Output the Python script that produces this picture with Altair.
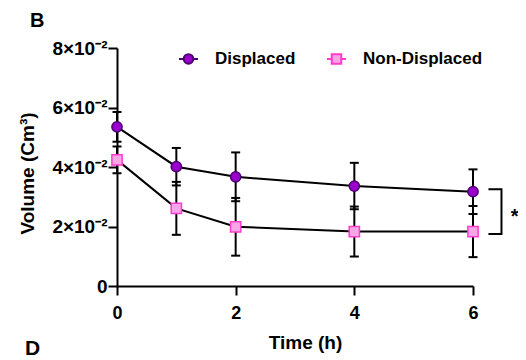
import altair as alt
import pandas as pd

# ---- data ----
times = [0, 1, 2, 4, 6]
groups = ["Displaced", "Non-Displaced"]
disp_mean = [0.0535, 0.0401, 0.0367, 0.0336, 0.0317]
disp_sd = [0.0050, 0.0063, 0.0082, 0.0078, 0.0075]
nond_mean = [0.0424, 0.0261, 0.0199, 0.0183, 0.0183]
nond_sd = [0.0045, 0.0089, 0.0097, 0.0084, 0.0086]

x_ticks = [0, 2, 4, 6]
y_ticks = [0, 0.02, 0.04, 0.06, 0.08]
y_tick_labels = ["0", "2×10⁻²", "4×10⁻²", "6×10⁻²", "8×10⁻²"]

# significance bracket between the two series at 6 h
bracket_x = [6.26, 6.48, 6.48, 6.26]
bracket_y = [0.0325, 0.0325, 0.0175, 0.0175]
star_text = ["*"]
star_x = [6.70]
star_y = [0.0213]

fill_colors = ["#9A00CC", "#F8A6E6"]
stroke_colors = ["#4E0070", "#FF3CCB"]

FONT = "Liberation Sans"

# ---- tables ----
rows = []
for g, means, sds in [(groups[0], disp_mean, disp_sd), (groups[1], nond_mean, nond_sd)]:
    for t, m, s in zip(times, means, sds):
        rows.append({"group": g, "t": t, "v": m, "lo": m - s, "hi": m + s})
df = pd.DataFrame(rows)
caps = pd.concat([
    df.assign(cap=df["lo"]),
    df.assign(cap=df["hi"]),
])
bracket = pd.DataFrame({"x": bracket_x, "y": bracket_y, "o": list(range(len(bracket_x)))})
star = pd.DataFrame({"x": star_x, "y": star_y, "s": star_text})

label_expr = "[" + ",".join("'" + s + "'" for s in y_tick_labels) + "][round(datum.value/0.02)]"

xaxis = alt.Axis(
    values=x_ticks, title="Time (h)", grid=False,
    domainColor="black", domainWidth=2, tickColor="black", tickWidth=2, tickSize=9,
    labelFont=FONT, labelFontSize=18, labelFontWeight="bold", labelColor="black",
    labelPadding=9, labelFlush=False,
    titleFont=FONT, titleFontSize=19, titleFontWeight="bold", titleColor="black",
    titleX=188, titleY=62, titleAlign="center", titleBaseline="alphabetic",
)
yaxis = alt.Axis(
    values=y_ticks, title="Volume (Cm³)", grid=False, labelExpr=label_expr,
    domainColor="black", domainWidth=2, tickColor="black", tickWidth=2, tickSize=9,
    labelFont=FONT, labelFontSize=19, labelFontWeight="bold", labelColor="black",
    labelPadding=1, labelFlush=False,
    titleFont=FONT, titleFontSize=19, titleFontWeight="bold", titleColor="black",
    titleX=-84, titleY=125, titleAlign="center", titleBaseline="alphabetic", titleAngle=270,
)
xs = alt.Scale(domain=[0, 6], nice=False, zero=False)
ys = alt.Scale(domain=[0, 0.08], nice=False)


def X(f):
    return alt.X(f, type="quantitative", scale=xs, axis=xaxis)


def Y(f):
    return alt.Y(f, type="quantitative", scale=ys, axis=yaxis)


lines = alt.Chart(df).mark_line(color="black", strokeWidth=2).encode(
    x=X("t"), y=Y("v"), detail="group:N"
)
bars = alt.Chart(df).mark_rule(color="black", strokeWidth=2).encode(
    x=X("t"), y=Y("lo"), y2="hi"
)
capmarks = alt.Chart(caps).mark_rule(color="black", strokeWidth=2, xOffset=-4.5, x2Offset=4.5).encode(
    x=X("t"), x2="t", y=Y("cap")
)
points = alt.Chart(df).mark_point(filled=True, size=105, strokeWidth=1.5, opacity=1).encode(
    x=X("t"), y=Y("v"),
    shape=alt.Shape("group:N", scale=alt.Scale(domain=groups, range=["circle", "square"]), legend=None),
    fill=alt.Fill("group:N", scale=alt.Scale(domain=groups, range=fill_colors), legend=None),
    stroke=alt.Stroke("group:N", scale=alt.Scale(domain=groups, range=stroke_colors), legend=None),
)

circ_path = "M-1,0H-0.5M0.5,0H1M0.5,0A0.5,0.5,0,1,1,-0.5,0A0.5,0.5,0,1,1,0.5,0Z"
sq_path = "M-1,0H-0.5M0.5,0H1M-0.5,-0.5H0.5V0.5H-0.5Z"
leg = alt.Legend(
    title=None, orient="none", legendX=61, legendY=0, direction="horizontal",
    padding=0, symbolSize=361, symbolStrokeWidth=2, symbolOpacity=1, labelOffset=16, columnPadding=27,
    labelFont=FONT, labelFontSize=17, labelFontWeight="bold", labelColor="black",
)
legend_layer = alt.Chart(df).transform_filter("datum.t < 0").mark_point(
    filled=True, strokeWidth=2, opacity=1
).encode(
    x=X("t"), y=Y("v"),
    shape=alt.Shape("group:N", scale=alt.Scale(domain=groups, range=[circ_path, sq_path]), legend=leg),
    fill=alt.Fill("group:N", scale=alt.Scale(domain=groups, range=fill_colors), legend=leg),
    stroke=alt.Stroke("group:N", scale=alt.Scale(domain=groups, range=stroke_colors), legend=leg),
)

bracket_mark = alt.Chart(bracket).mark_line(color="black", strokeWidth=2, clip=False).encode(
    x=X("x"), y=Y("y"), order="o:Q"
)
star_mark = alt.Chart(star).mark_text(
    font=FONT, fontSize=20, fontWeight="bold", color="black", align="center", baseline="alphabetic", clip=False
).encode(x=X("x"), y=Y("y"), text="s:N")

one = pd.DataFrame({"a": [0]})
panel_b = alt.Chart(one).mark_text(
    text="B", font=FONT, fontSize=20, fontWeight="bold", color="black", align="left", baseline="alphabetic"
).encode(x=alt.value(-87), y=alt.value(-21))
panel_d = alt.Chart(one).mark_text(
    text="D", font=FONT, fontSize=21, fontWeight="bold", color="black", align="left", baseline="alphabetic"
).encode(x=alt.value(-92), y=alt.value(307))

chart = alt.layer(
    lines, bars, capmarks, points, legend_layer, bracket_mark, star_mark, panel_b, panel_d
).resolve_scale(
    shape="independent", fill="independent", stroke="independent"
).properties(
    width=356, height=238,
    autosize=alt.AutoSizeParams(type="none"),
    padding={"left": 109, "top": 40, "right": 45, "bottom": 72},
    background="white",
).configure_view(stroke=None)

chart.save("out.html", embed_options={"renderer": "svg", "actions": False})
